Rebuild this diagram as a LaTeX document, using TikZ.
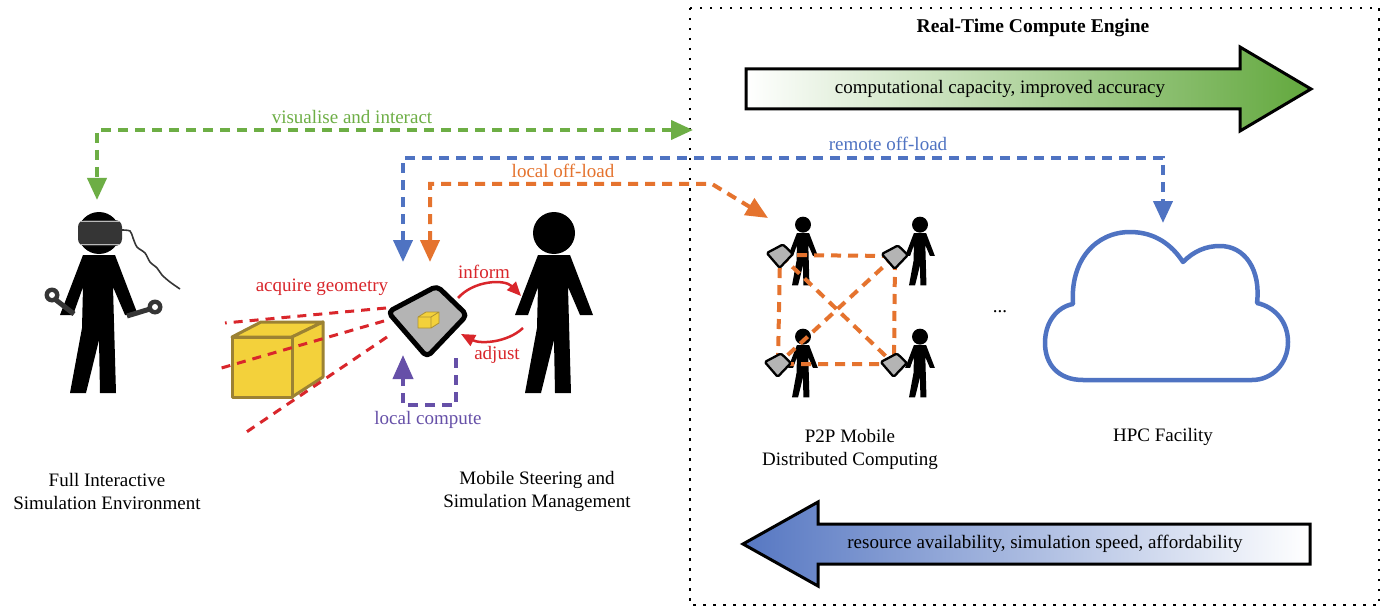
\documentclass[tikz,border=0pt]{standalone}
\usepackage{fontspec}
\setmainfont{Liberation Serif}
\usetikzlibrary{arrows.meta}
\definecolor{cgreen}{HTML}{6DAE45}
\definecolor{cblue}{HTML}{4F73C2}
\definecolor{corange}{HTML}{E5732E}
\definecolor{cred}{HTML}{D9262B}
\definecolor{cpurple}{HTML}{6650A8}
\definecolor{cyellow}{HTML}{F3D13B}
\definecolor{cbrown}{HTML}{9C8233}
\definecolor{tabgrey}{HTML}{B4B4B4}
\definecolor{gear}{HTML}{353535}
\definecolor{arrgreen}{HTML}{62A83D}
\definecolor{arrblue}{HTML}{5677C2}

\tikzset{
  lbl/.style={font=\fontsize{19}{23}\selectfont, inner sep=0pt, align=center},
  flow/.style={line width=4pt, dash pattern=on 10pt off 7pt},
  bothtips/.style={{Triangle[length=22pt,width=19pt]}-{Triangle[length=22pt,width=19pt]}},
  redtip/.style={-{Triangle[length=14pt,width=12pt]}},
  geomray/.style={cred, line width=3pt, dash pattern=on 9pt off 7pt},
  meshlink/.style={corange, line width=4pt, dash pattern=on 10pt off 7pt},
  bigarrow/.style={draw=black, line width=3pt, line join=miter},
  % stick figure, origin at the top centre of the torso
  person/.pic={
    \fill[black] (0,-22) circle[radius=21];
    \fill[black] (-16,0)--(-39,60)--(-26,60)--(-16,32)--(-17,73)--(-29,138)--(-13,138)
      --(0,85)--(1,138)--(17,138)--(15,68)--(14,32)--(26,60)--(39,60)--(16,0)--cycle;
  },
  % hand-held device, origin at its centre
  tablet/.pic={
    \filldraw[fill=tabgrey, draw=black, line join=round]
      (-40,-6)--(9,-32)--(39,-3)--(-1,39)--cycle;
  }
}

\begin{document}
\begin{tikzpicture}[x=1pt,y=-1pt]
\useasboundingbox (0,0) rectangle (1382,607);
\fill[white] (0,0) rectangle (1382,607);

% ---- real-time compute engine frame
\draw[line width=2.5pt, dash pattern=on 2.5pt off 7.5pt] (690,8) rectangle (1379,605);
\node[lbl, font=\fontsize{19.5}{23}\selectfont\bfseries] (title) at (1033,28) {Real-Time Compute Engine};

% ---- capacity / availability arrows
\draw[bigarrow, left color=white, right color=arrgreen]
  (746,69)--(1240,69)--(1240,47)--(1311,89)--(1240,131)--(1240,109)--(746,109)--cycle;
\node[lbl] (capacity) at (1000,89) {computational capacity, improved accuracy};

\draw[bigarrow, left color=arrblue, right color=white]
  (1310,524)--(818,524)--(818,502)--(743,544)--(818,586)--(818,564)--(1310,564)--cycle;
\node[lbl] (availability) at (1045,544) {resource availability, simulation speed, affordability};

% ---- VR user
\pic at (99,255) {person};
\fill[gear, rounded corners=7pt] (78,220) rectangle (122,246);
\draw[gray!55, line width=1pt] (81,221.8)--(119,221.8) (81,244.2)--(119,244.2);
\draw[gear, line width=1.6pt] plot[smooth] coordinates
  {(121,230) (130,231) (133,238) (137,247) (145,253) (150,262) (157,268) (162,275) (170,282) (180,289)};
\draw[gear, line width=5pt] (56,300)--(74,314);
\fill[gear] (52,295) circle[radius=7.5];
\fill[white] (52,295) circle[radius=3];
\draw[gear, line width=5pt] (127,316)--(150,309);
\fill[gear] (155,307) circle[radius=7.5];
\fill[white] (155,307) circle[radius=3];

% ---- scanned object
\filldraw[fill=cyellow, draw=cbrown, line width=3pt, line join=round]
  (232,337)--(261,322)--(323,322)--(292,337)--cycle;
\filldraw[fill=cyellow, draw=cbrown, line width=3pt, line join=round]
  (292,337)--(323,322)--(323,377)--(292,397)--cycle;
\filldraw[fill=cyellow, draw=cbrown, line width=3pt, line join=round]
  (232,337) rectangle (292,397);

% ---- acquire geometry rays
\coordinate (ray1a) at (386,308); \coordinate (ray1b) at (225,323);
\coordinate (ray2a) at (384,321); \coordinate (ray2b) at (218,369);
\coordinate (ray3a) at (387,337); \coordinate (ray3b) at (245,433);
\draw[geomray] (ray1a) -- (ray1b);
\draw[geomray] (ray2a) -- (ray2b);
\draw[geomray] (ray3a) -- (ray3b);
\node[lbl, text=cred] (acquire) at (322,287) {acquire geometry};

% ---- mobile device
\pic[line width=5pt, rounded corners=5pt] at (428,318) {tablet};
\filldraw[fill=cyellow, draw=cbrown!80!cyellow, line width=0.8pt, line join=round]
  (418,317)--(426,312)--(439,312)--(431,317)--cycle
  (431,317)--(439,312)--(439,323)--(431,328)--cycle
  (418,317) rectangle (431,328);

% ---- steering user
\pic at (554,255) {person};

% inform / adjust
\coordinate (tabIn) at (458,298);  \coordinate (userIn) at (521,296);
\coordinate (userOut) at (523,328); \coordinate (tabAdj) at (461,334);
\draw[cred, line width=2.5pt, redtip] (tabIn) .. controls (474,280) and (505,279) .. (userIn);
\draw[cred, line width=2.5pt, redtip] (userOut) .. controls (507,343) and (480,344) .. (tabAdj);
\node[lbl, text=cred] (inform) at (484,272) {inform};
\node[lbl, text=cred] (adjust) at (497,355) {adjust};

% local compute loop
\coordinate (lcStart) at (456,358);
\coordinate (lcCorner) at (456,405);
\coordinate (tabLocal) at (403,355);
\draw[flow, cpurple, -{Triangle[length=24pt,width=20pt]}] (lcStart) -- (lcCorner) -| (tabLocal);
\node[lbl, text=cpurple] (localcompute) at (428,420) {local compute};

% ---- P2P mobile network
\pic[scale=0.38] at (803,233) {person};
\pic[scale=0.38] at (920,233) {person};
\pic[scale=0.38] at (803,345) {person};
\pic[scale=0.38] at (920,345) {person};
\coordinate (p1) at (780,255);
\coordinate (p2) at (895,256);
\coordinate (p3) at (778,364);
\coordinate (p4) at (894,364);
\draw[meshlink] (p1) -- (p2) -- (p4) -- (p3) -- cycle;
\draw[meshlink] (p1) -- (p4);
\draw[meshlink] (p2) -- (p3);
\foreach \p in {p1,p2,p3,p4}
  \pic[scale=0.33, line width=2.3pt, rounded corners=1.5pt] at (\p) {tablet};
\node[lbl] (dots) at (1000,312) {...};

% ---- HPC cloud
\draw[cblue, line width=4.5pt, fill=white, line join=round]
  (1083,380) .. controls (1058,380) and (1045,364) .. (1045,343)
  .. controls (1045,322) and (1057,307) .. (1073,304)
  .. controls (1070,260) and (1096,232) .. (1130,232)
  .. controls (1155,232) and (1172,245) .. (1183,262)
  .. controls (1194,251) and (1206,246) .. (1220,246)
  .. controls (1245,246) and (1261,270) .. (1257,303)
  .. controls (1275,307) and (1288,322) .. (1288,342)
  .. controls (1288,364) and (1272,380) .. (1252,380) -- cycle;

% ---- captions
\node[lbl] (vrcap) at (107,491) {Full Interactive\\Simulation Environment};
\node[lbl] (mobcap) at (537,491) {Mobile Steering and\\Simulation Management};
\node[lbl] (p2pcap) at (850,449) {P2P Mobile\\Distributed Computing};
\node[lbl] (hpccap) at (1163,437) {HPC Facility};

% ---- data flows
\coordinate (engineIn) at (693,130);
\coordinate (vrIn) at (97,200);
\draw[flow, cgreen, bothtips] (engineIn) -| (vrIn);
\node[lbl, text=cgreen] (vislabel) at (352,117) {visualise and interact};

\coordinate (tabRemote) at (403,262);
\coordinate (remoteCorner) at (1163,158);
\coordinate (cloudIn) at (1163,223);
\draw[flow, cblue, bothtips] (tabRemote) |- (remoteCorner) -- (cloudIn);
\node[lbl, text=cblue] (remotelabel) at (888,144) {remote off-load};

\coordinate (tabOff) at (430,262);
\coordinate (offCorner) at (712,184);
\coordinate (p2pIn) at (768,218);
\draw[flow, corange, bothtips] (tabOff) |- (offCorner) -- (p2pIn);
\node[lbl, text=corange] (locallabel) at (563,171) {local off-load};
\end{tikzpicture}
\end{document}
